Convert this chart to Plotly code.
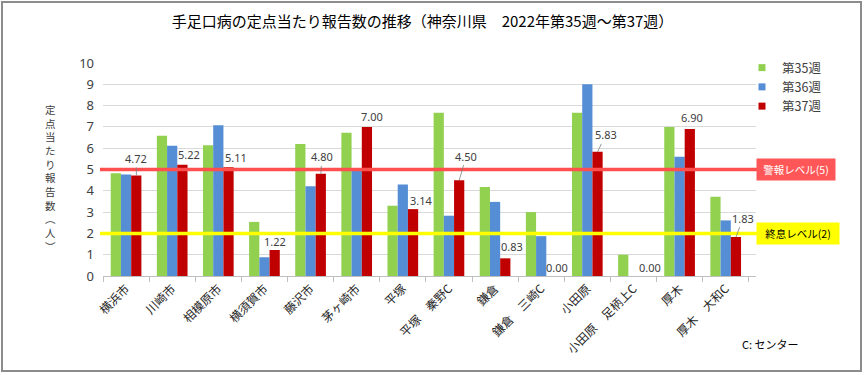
import plotly.graph_objects as go

# ---- data ----
categories = ["横浜市", "川崎市", "相模原市", "横須賀市", "藤沢市", "茅ヶ崎市", "平塚",
              "平塚　秦野C", "鎌倉", "鎌倉　三崎C", "小田原", "小田原　足柄上C", "厚木", "厚木　大和C"]
week35 = [4.82, 6.58, 6.14, 2.54, 6.20, 6.72, 3.30, 7.67, 4.18, 3.00, 7.67, 1.00, 7.00, 3.72]
week36 = [4.77, 6.11, 7.08, 0.88, 4.21, 5.00, 4.30, 2.83, 3.48, 1.87, 9.00, 0.00, 5.60, 2.61]
week37 = [4.72, 5.22, 5.11, 1.22, 4.80, 7.00, 3.14, 4.50, 0.83, 0.00, 5.83, 0.00, 6.90, 1.83]
series_names = ["第35週", "第36週", "第37週"]
warning_level = 5
end_level = 2
title_text = "手足口病の定点当たり報告数の推移（神奈川県　2022年第35週～第37週）"
yaxis_title = "定点当たり報告数︵人︶"

# ---- styles ----
colors = ["#92D050", "#558ED5", "#C00000"]
# label offsets (px) relative to top of week-37 bar: (dx, dy, leader line)
label_offsets = [(0, -17, True), (7, -10, False), (7, -10, False), (0, -9, False),
                 (1, -17, True), (5, -10, False), (8, -9, False), (7, -24, True),
                 (7, -12, False), (5, -9, False), (8, -17, True), (6, -9, False),
                 (2, -12, False), (7, -19, True)]

W, H = 864, 375
ml, mr, mt, mb = 103, 108, 63, 99
pw, ph = W - ml - mr, H - mt - mb

def px_x(p):
    return (p - ml) / pw

def px_y(p):
    return (H - mb - p) / ph

fig = go.Figure()
for name, vals, c in zip(series_names, [week35, week36, week37], colors):
    fig.add_trace(go.Bar(x=categories, y=vals, name=name, marker_color=c,
                         marker_line_width=0, legendgroup=name, showlegend=False))
# legend entries with small square symbols
for name, c in zip(series_names, colors):
    fig.add_trace(go.Scatter(x=[None], y=[None], mode="markers", name=name,
                             legendgroup=name,
                             marker=dict(symbol="square", size=7, color=c)))

font_main = "Noto Sans CJK JP, Noto Sans, sans-serif"

# data labels for week 37
red_shift = 10.3
for cat, v, (dx, dy, leader) in zip(categories, week37, label_offsets):
    if leader:
        fig.add_annotation(x=cat, y=v, text=f"{v:.2f}", showarrow=True,
                           arrowhead=0, arrowwidth=0.8, arrowcolor="#7F7F7F",
                           ax=dx, ay=dy, xshift=red_shift, standoff=0,
                           font=dict(size=11, color="#404040", family="Noto Sans, sans-serif"))
    else:
        fig.add_annotation(x=cat, y=v, text=f"{v:.2f}", showarrow=False,
                           xanchor="center", yanchor="middle",
                           xshift=red_shift + dx, yshift=-dy,
                           font=dict(size=11, color="#404040", family="Noto Sans, sans-serif"))

# threshold lines
fig.add_shape(type="line", xref="paper", yref="y", x0=px_x(100), x1=px_x(760),
              y0=warning_level, y1=warning_level, line=dict(color="#FF4F4F", width=3.5))
fig.add_shape(type="line", xref="paper", yref="y", x0=px_x(100), x1=px_x(760),
              y0=end_level, y1=end_level, line=dict(color="#FFFF00", width=3.5))

# level boxes
fig.add_annotation(xref="paper", yref="y", x=px_x(796), y=warning_level,
                   xanchor="center", yanchor="middle",
                   text="警報レベル(5)", showarrow=False, bgcolor="#FF5757",
                   width=76, height=19, font=dict(size=10.5, color="white", family=font_main))
fig.add_annotation(xref="paper", yref="y", x=px_x(798), y=end_level,
                   xanchor="center", yanchor="middle",
                   text="終息レベル(2)", showarrow=False, bgcolor="#FFFF00",
                   width=80, height=19, font=dict(size=10.5, color="black", family=font_main))

# y-axis title (vertical, upright characters stacked)
fig.add_annotation(xref="paper", yref="paper", x=px_x(50), y=px_y(178),
                   text="<br>".join(list(yaxis_title)), showarrow=False,
                   xanchor="center", yanchor="middle",
                   font=dict(size=10.5, color="#404040", family=font_main))

# note
fig.add_annotation(xref="paper", yref="paper", x=px_x(770), y=px_y(344),
                   text="C: センター", showarrow=False, xanchor="center", yanchor="middle",
                   font=dict(size=11, color="black", family=font_main))

# outer border
fig.add_shape(type="rect", xref="paper", yref="paper",
              x0=px_x(2), x1=px_x(861), y0=px_y(2), y1=px_y(371),
              line=dict(color="#8C8C8C", width=2), fillcolor="rgba(0,0,0,0)")

fig.update_layout(
    width=W, height=H,
    margin=dict(l=ml, r=mr, t=mt, b=mb, autoexpand=False),
    paper_bgcolor="white", plot_bgcolor="white",
    barmode="group", bargap=0.335, bargroupgap=0,
    title=dict(text=title_text, x=422.5 / W, xanchor="center", y=1 - 22 / H, yanchor="middle",
               font=dict(size=15, color="black", family=font_main)),
    font=dict(family=font_main, color="#404040"),
    legend=dict(x=px_x(742), y=px_y(53), xanchor="left", yanchor="top",
                bgcolor="rgba(0,0,0,0)", font=dict(size=12.5, color="#404040", family=font_main),
                tracegroupgap=0, itemwidth=30),
    showlegend=True,
)
fig.update_xaxes(type="category", tickangle=-45, ticks="outside", tickson="boundaries",
                 ticklen=5, tickcolor="#BFBFBF", showline=True, linecolor="#BFBFBF",
                 linewidth=1, showgrid=False, automargin=False,
                 tickfont=dict(size=12, color="#262626", family=font_main))
fig.update_yaxes(range=[0, 10], dtick=1, showgrid=True, gridcolor="#D9D9D9",
                 zeroline=False, showline=False, ticks="", ticklabelstandoff=8,
                 automargin=False,
                 tickfont=dict(size=13, color="#404040", family="Noto Sans, sans-serif"))

fig.write_html("out.html", config={"displayModeBar": False},
               post_script="document.body.style.margin='0';")
